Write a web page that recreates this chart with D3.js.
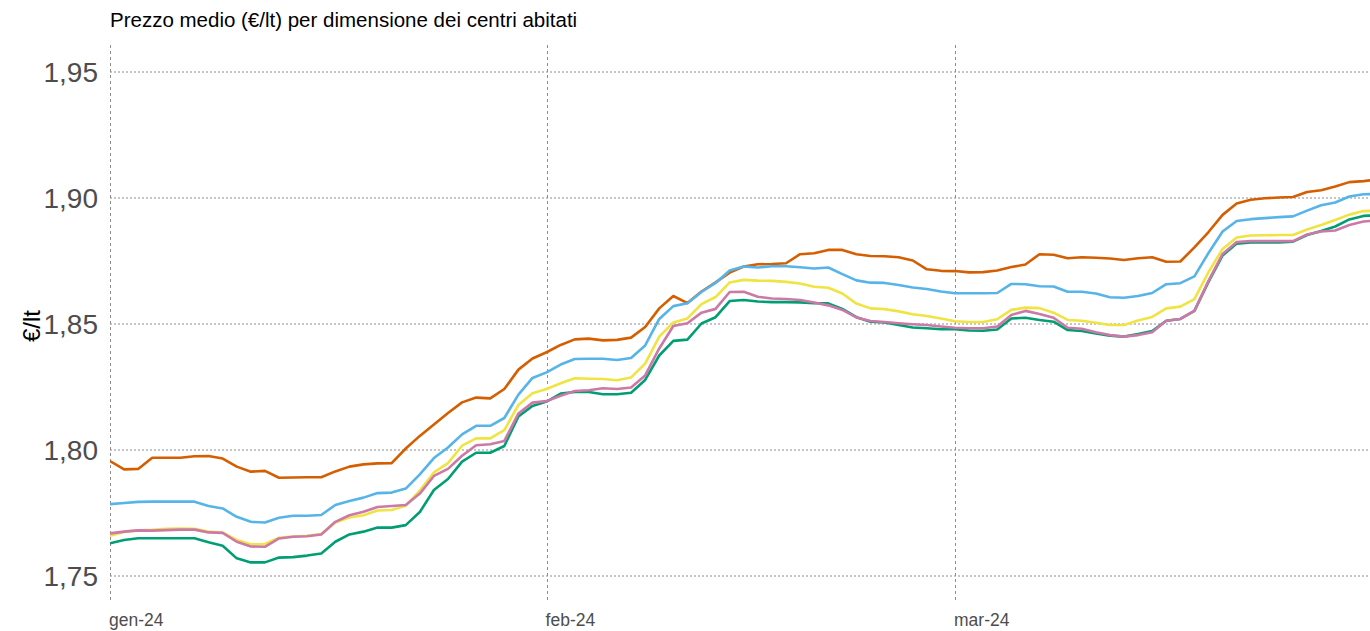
<!DOCTYPE html>
<html>
<head>
<meta charset="utf-8">
<script src="https://cdn.jsdelivr.net/npm/d3@7"></script>
<style>
  body { margin: 0; background: #fff; }
  svg { display: block; font-family: "Liberation Sans", Arial, sans-serif; }
</style>
</head>
<body>
<div id="chart"></div>
<script>

// daily prices, 1 jan 2024 -> 31 mar 2024 (one value per day)
let startDate = new Date(2024, 0, 1)
let endDate = new Date(2024, 3, 1)

let seriesNames = ["serie 1", "serie 2", "serie 3", "serie 4", "serie 5"]
let seriesColors = ["#D55E00", "#56B4E9", "#F0E442", "#009E73", "#CC79A7"]

let orange = [1.7956, 1.7923, 1.7925, 1.7969, 1.7969, 1.7969, 1.7975, 1.7976, 1.7966, 1.7934, 1.7914, 1.7917, 1.7890, 1.7891, 1.7892, 1.7892,
  1.7915, 1.7934, 1.7943, 1.7947, 1.7948, 1.8006, 1.8056, 1.8101, 1.8147, 1.8189, 1.8208, 1.8205, 1.8242, 1.8319, 1.8363, 1.8388, 1.8417,
  1.8439, 1.8442, 1.8435, 1.8437, 1.8446, 1.8488, 1.8562, 1.8611, 1.8583, 1.8629, 1.8665, 1.8704, 1.8728, 1.8737, 1.8738, 1.8741, 1.8777, 1.8781,
  1.8794, 1.8794, 1.8777, 1.8770, 1.8769, 1.8765, 1.8752, 1.8717, 1.8711, 1.8710, 1.8705, 1.8706, 1.8712, 1.8726,
  1.8736, 1.8777, 1.8775, 1.8761, 1.8765, 1.8763, 1.8760, 1.8754, 1.8761, 1.8765, 1.8747, 1.8748, 1.8804, 1.8865, 1.8933, 1.8978,
  1.8993, 1.8999, 1.9002, 1.9004, 1.9024, 1.9031, 1.9046, 1.9063, 1.9067, 1.9073]

let blue = [1.7785, 1.7790, 1.7794, 1.7795, 1.7795, 1.7795, 1.7795, 1.7778, 1.7768, 1.7735, 1.7715, 1.7712, 1.7731, 1.7739, 1.7739, 1.7742,
  1.7782, 1.7798, 1.7811, 1.7829, 1.7831, 1.7847, 1.7903, 1.7968, 1.8010, 1.8062, 1.8096, 1.8096, 1.8127, 1.8220, 1.8286, 1.8308, 1.8339,
  1.8361, 1.8362, 1.8362, 1.8357, 1.8365, 1.8415, 1.8520, 1.8571, 1.8582, 1.8627, 1.8663, 1.8712, 1.8728, 1.8724, 1.8729, 1.8729, 1.8725, 1.8720,
  1.8724, 1.8698, 1.8673, 1.8664, 1.8663, 1.8655, 1.8645, 1.8639, 1.8629, 1.8622, 1.8622, 1.8622, 1.8623, 1.8659,
  1.8658, 1.8650, 1.8649, 1.8628, 1.8628, 1.8621, 1.8606, 1.8604, 1.8611, 1.8623, 1.8658, 1.8662, 1.8689, 1.8782, 1.8867, 1.8909,
  1.8916, 1.8920, 1.8924, 1.8927, 1.8950, 1.8971, 1.8982, 1.9006, 1.9015, 1.9016]

let yellow = [1.7660, 1.7675, 1.7681, 1.7683, 1.7687, 1.7688, 1.7687, 1.7676, 1.7672, 1.7643, 1.7626, 1.7627, 1.7652, 1.7657, 1.7660, 1.7667,
  1.7712, 1.7732, 1.7741, 1.7760, 1.7762, 1.7779, 1.7839, 1.7911, 1.7948, 1.8017, 1.8046, 1.8046, 1.8079, 1.8179, 1.8225, 1.8242, 1.8265,
  1.8285, 1.8283, 1.8282, 1.8277, 1.8288, 1.8343, 1.8450, 1.8506, 1.8522, 1.8579, 1.8607, 1.8665, 1.8675, 1.8672, 1.8671, 1.8667, 1.8661, 1.8648,
  1.8644, 1.8621, 1.8581, 1.8562, 1.8559, 1.8550, 1.8539, 1.8532, 1.8522, 1.8511, 1.8508, 1.8508, 1.8519, 1.8556,
  1.8565, 1.8563, 1.8545, 1.8516, 1.8513, 1.8505, 1.8496, 1.8496, 1.8514, 1.8528, 1.8562, 1.8569, 1.8599, 1.8706, 1.8798, 1.8843,
  1.8851, 1.8852, 1.8853, 1.8853, 1.8875, 1.8893, 1.8913, 1.8934, 1.8948, 1.8950]

let green = [1.7630, 1.7643, 1.7650, 1.7650, 1.7650, 1.7650, 1.7650, 1.7634, 1.7620, 1.7570, 1.7554, 1.7554, 1.7573, 1.7575, 1.7581, 1.7589,
  1.7636, 1.7665, 1.7676, 1.7692, 1.7692, 1.7702, 1.7754, 1.7841, 1.7885, 1.7954, 1.7989, 1.7989, 1.8016, 1.8133, 1.8175, 1.8192, 1.8224,
  1.8230, 1.8230, 1.8221, 1.8221, 1.8227, 1.8278, 1.8375, 1.8433, 1.8438, 1.8502, 1.8527, 1.8591, 1.8595, 1.8589, 1.8587, 1.8587, 1.8586, 1.8583,
  1.8582, 1.8560, 1.8527, 1.8509, 1.8506, 1.8496, 1.8486, 1.8483, 1.8479, 1.8479, 1.8474, 1.8473, 1.8478, 1.8522,
  1.8525, 1.8516, 1.8509, 1.8476, 1.8472, 1.8462, 1.8454, 1.8450, 1.8460, 1.8472, 1.8513, 1.8520, 1.8552, 1.8667, 1.8772, 1.8819,
  1.8824, 1.8824, 1.8824, 1.8827, 1.8853, 1.8869, 1.8887, 1.8915, 1.8929, 1.8931]

let pink = [1.7669, 1.7676, 1.7681, 1.7680, 1.7682, 1.7684, 1.7684, 1.7673, 1.7671, 1.7636, 1.7617, 1.7616, 1.7649, 1.7656, 1.7658, 1.7665,
  1.7715, 1.7741, 1.7755, 1.7774, 1.7778, 1.7782, 1.7827, 1.7897, 1.7925, 1.7977, 1.8019, 1.8023, 1.8036, 1.8145, 1.8188, 1.8194, 1.8215,
  1.8234, 1.8237, 1.8245, 1.8242, 1.8248, 1.8296, 1.8403, 1.8492, 1.8503, 1.8545, 1.8560, 1.8627, 1.8628, 1.8608, 1.8601, 1.8599, 1.8595, 1.8585,
  1.8574, 1.8556, 1.8526, 1.8512, 1.8508, 1.8503, 1.8499, 1.8496, 1.8490, 1.8485, 1.8483, 1.8483, 1.8490, 1.8536,
  1.8552, 1.8540, 1.8525, 1.8485, 1.8481, 1.8467, 1.8456, 1.8450, 1.8456, 1.8467, 1.8513, 1.8520, 1.8552, 1.8671, 1.8778, 1.8825,
  1.8829, 1.8829, 1.8829, 1.8829, 1.8855, 1.8867, 1.8871, 1.8893, 1.8907, 1.8911]

let yTicks = [1.75, 1.80, 1.85, 1.90, 1.95]
let xTicks = [new Date(2024, 0, 1), new Date(2024, 1, 1), new Date(2024, 2, 1)]
let xTickLabels = ["gen-24", "feb-24", "mar-24"]

let width = 1370;
let height = 631;

let margin = {top: 45, right: 0, bottom: 28, left: 110}

let dates = d3.timeDay.range(startDate, endDate)

let x = d3.scaleTime()
  .domain([startDate, new Date(2024, 2, 1)])
  .range([margin.left, 955])

let y = d3.scaleLinear()
  .domain([1.75, 1.95])
  .range([576, 72])

let svg = d3.select("#chart").append("svg")
  .attr("width", width)
  .attr("height", height);

svg.append("clipPath").attr("id", "plotclip")
  .append("rect")
  .attr("x", margin.left)
  .attr("y", margin.top)
  .attr("width", width - margin.left)
  .attr("height", height - margin.top - margin.bottom)

//horizontal grid (dotted)
svg.selectAll(".hgrid")
  .data(yTicks)
  .join("line")
  .attr("class", "hgrid")
  .attr("x1", margin.left)
  .attr("x2", width)
  .attr("y1", d => y(d))
  .attr("y2", d => y(d))
  .style("stroke", "#8c8c8c")
  .style("stroke-width", 1)
  .style("stroke-dasharray", "2,2")

//vertical grid (dashed)
svg.selectAll(".vgrid")
  .data(xTicks)
  .join("line")
  .attr("class", "vgrid")
  .attr("x1", d => Math.round(x(d)) + 0.5)
  .attr("x2", d => Math.round(x(d)) + 0.5)
  .attr("y1", margin.top)
  .attr("y2", height - margin.bottom)
  .style("stroke", "#8c8c8c")
  .style("stroke-width", 1)
  .style("stroke-dasharray", "3,3")

//y axis labels
svg.selectAll(".ytick")
  .data(yTicks)
  .join("text")
  .attr("class", "ytick")
  .attr("x", 98)
  .attr("y", d => y(d))
  .attr("dy", "0.36em")
  .attr("text-anchor", "end")
  .style("font-size", "28px")
  .style("fill", "#4d4d4d")
  .text(d => d3.format(".2f")(d).replace(".", ","))

//x axis labels
svg.selectAll(".xtick")
  .data(xTicks)
  .join("text")
  .attr("class", "xtick")
  .attr("x", d => x(d) - 1)
  .attr("y", 626)
  .attr("text-anchor", "start")
  .style("font-size", "17.5px")
  .style("fill", "#4d4d4d")
  .text((d, i) => xTickLabels[i])

//axis title
svg.append("text")
  .attr("transform", "translate(40," + 326 + ") rotate(-90)")
  .attr("text-anchor", "middle")
  .style("font-size", "24px")
  .style("fill", "#000")
  .text("€/lt")

//chart title
svg.append("text")
  .attr("x", margin.left)
  .attr("y", 27)
  .style("font-size", "20.5px")
  .style("fill", "#000")
  .text("Prezzo medio (€/lt) per dimensione dei centri abitati")

let allSeries = [orange, blue, yellow, green, pink]

let line = d3.line()
  .x((d, i) => x(dates[i]))
  .y(d => y(d))

svg.append("g")
  .attr("clip-path", "url(#plotclip)")
  .selectAll(".serie")
  .data(allSeries)
  .join("path")
  .attr("class", "serie")
  .attr("d", d => line(d))
  .style("fill", "none")
  .style("stroke", (d, i) => seriesColors[i])
  .style("stroke-width", 2.6)
  .style("stroke-linejoin", "round")
  .append("title")
  .text((d, i) => seriesNames[i])

</script>
</body>
</html>
